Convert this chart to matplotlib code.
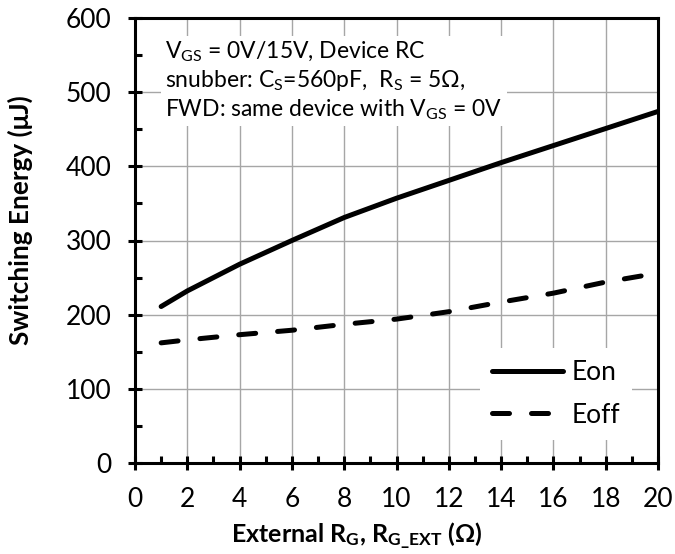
import matplotlib
matplotlib.use("Agg")
import matplotlib.pyplot as plt
from matplotlib.ticker import MultipleLocator

plt.rcParams["font.family"] = ["Lato", "DejaVu Sans"]
plt.rcParams["mathtext.fontset"] = "custom"
plt.rcParams["mathtext.rm"] = "Lato"
plt.rcParams["mathtext.bf"] = "Lato:bold"
plt.rcParams["mathtext.it"] = "Lato:italic"

# external gate resistance (ohm) and switching energies (uJ)
rg_ext = [1, 2, 4, 6, 8, 10, 12, 14, 16, 18, 20]
eon = [211, 232, 268, 300, 331, 357, 381, 405, 428, 451, 474]
eoff = [162, 166, 173, 179, 187, 194, 204, 217, 229, 244, 256]

fig = plt.figure(figsize=(6.75, 5.54), dpi=100)
ax = fig.add_axes([135 / 675, 1 - 463 / 554, (658 - 135) / 675, (463 - 18) / 554])

ax.plot(rg_ext, eon, color="black", lw=3.6, solid_capstyle="round", label="Eon", zorder=3)
ax.plot(rg_ext, eoff, color="black", lw=3.6, ls=(0, (3.4, 4.4)), dash_capstyle="round",
        label="Eoff", zorder=3)

ax.set_xlim(0, 20)
ax.set_ylim(0, 600)
ax.xaxis.set_major_locator(MultipleLocator(2))
ax.xaxis.set_minor_locator(MultipleLocator(1))
ax.yaxis.set_major_locator(MultipleLocator(100))
ax.yaxis.set_minor_locator(MultipleLocator(50))
ax.grid(True, which="major", color="#a6a6a6", lw=1)
ax.set_axisbelow(True)
for side in ax.spines.values():
    side.set_linewidth(2.2)
ax.tick_params(which="major", direction="inout", length=10, width=2.2, labelsize=19)
ax.tick_params(which="minor", direction="in", length=5, width=2.2)
ax.tick_params(axis="y", which="major", pad=12)
ax.tick_params(axis="x", which="major", pad=12)

ax.set_ylabel("Switching Energy (μJ)", fontsize=18.8, fontweight="bold", labelpad=8)
ax.yaxis.set_label_coords(-0.195, 0.546)
ax.set_xlabel(r"External R$_\mathbf{G}$, R$_\mathbf{G\_EXT}$ (Ω)", fontsize=18,
              fontweight="bold", labelpad=4)
ax.xaxis.set_label_coords(0.423, -0.13)

note = ("V$_{\\mathrm{GS}}$ = 0V/15V, Device RC\n"
        "snubber: C$_{\\mathrm{S}}$=560pF,  R$_{\\mathrm{S}}$ = 5Ω,\n"
        "FWD: same device with V$_{\\mathrm{GS}}$ = 0V")
ax.text(0.058, 0.95, note, transform=ax.transAxes, fontsize=16.5, va="top", ha="left",
        linespacing=1.2,
        bbox=dict(facecolor="white", edgecolor="none", pad=3), zorder=4)

leg = ax.legend(loc="center", bbox_to_anchor=(0.805, 0.155), fontsize=19, frameon=True,
                handlelength=2.7, handletextpad=0.3, labelspacing=0.66, borderpad=0.45)
leg.get_frame().set_edgecolor("none")
leg.get_frame().set_facecolor("white")
leg.get_frame().set_alpha(1)
leg.get_frame().set_boxstyle("square", pad=0)

fig.savefig("out.png", dpi=100)
